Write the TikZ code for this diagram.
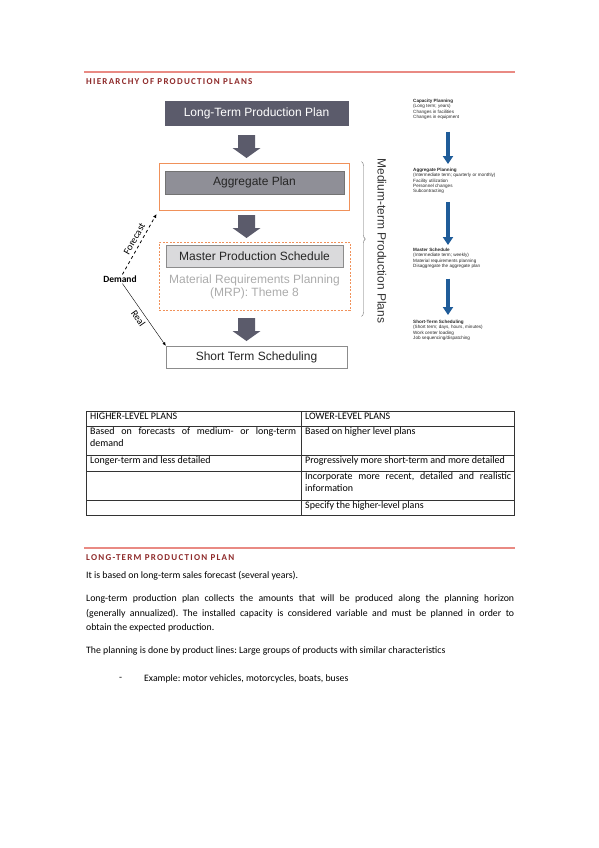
\documentclass[tikz,border=0pt]{standalone}
\usepackage{fontspec}
\setmainfont{Carlito}
\newfontfamily\arialfont{Liberation Sans}
\usetikzlibrary{arrows.meta,decorations.pathreplacing,calc}

\definecolor{headred}{HTML}{8E2A2A}
\definecolor{rulered}{HTML}{E98A83}
\definecolor{slate}{HTML}{5B5B6B}
\definecolor{midgray}{HTML}{8F8F97}
\definecolor{paleblock}{HTML}{DADADC}
\definecolor{planorange}{HTML}{F0915A}
\definecolor{mrpgray}{HTML}{ABABAB}
\definecolor{capblue}{HTML}{1F5C99}

\frenchspacing
\hyphenpenalty=10000
\exhyphenpenalty=10000

\begin{document}
\begin{tikzpicture}[x=1pt,y=-1pt,
    heading/.style={anchor=west, inner sep=0, text=headred,
      font=\bfseries\fontsize{9}{10}\selectfont\addfontfeature{LetterSpace=14}},
    planbox/.style={draw=#1, minimum height=23pt, inner sep=0,
      font=\arialfont\fontsize{12}{14}\selectfont},
    frame/.style={draw=planorange, line width=0.9pt, minimum width=190pt, inner sep=0},
    blockarrow/.style={fill=slate},
    captext/.style={anchor=north west, align=left, inner sep=0, text=black!85,
      font=\arialfont\fontsize{4.6}{5.3}\selectfont},
    bluearrow/.style={draw=capblue, line width=4pt, -{Triangle[width=10pt,length=8pt]}},
    cell/.style={anchor=north west, inner sep=0, text width=206pt, align=justify,
      font=\fontsize{10}{12}\selectfont},
    body/.style={anchor=north west, inner sep=0, text width=428pt, align=justify,
      font=\fontsize{9.8}{14.5}\selectfont}
]
\useasboundingbox (0,0) rectangle (599,848);

% section heading
\draw[rulered, line width=1.2pt] (84,72) -- (515,72);
\node[heading] (head1) at (86,81.5) {HIERARCHY OF PRODUCTION PLANS};

% hierarchy of plans
\node[planbox=slate, fill=slate, text=white, minimum width=183pt, minimum height=24pt] (ltp) at (256.5,113) {Long-Term Production Plan};
\node[frame, minimum height=47pt] (aggframe) at (254,186.5) {};
\node[planbox=black!55, fill=midgray, text=black!85, minimum width=179pt] (agg) at (254.5,182.5) {Aggregate Plan};
\node[frame, dashed, dash pattern=on 2pt off 1.5pt, minimum width=191pt, minimum height=68pt] (mrpframe) at (254.5,276) {};
\node[planbox=black!45, fill=paleblock, text=black!85, minimum width=177pt, minimum height=22pt] (mps) at (254.5,256) {Master Production Schedule};
\node[align=center, text=mrpgray, inner sep=0, font=\arialfont\fontsize{12}{13.5}\selectfont] (mrp) at (254.5,287) {Material Requirements Planning\\(MRP): Theme 8};
\node[planbox=black!45, fill=white, text=black!85, minimum width=181pt, minimum height=22pt] (sts) at (256.5,357) {Short Term Scheduling};

\foreach \ya in {135,215,318}
  \fill[blockarrow] (246.5,\ya) ++(-8.5,0) -- ++(17,0) -- ++(0,13) -- ++(5.5,0) -- ++(-14,10) -- ++(-14,-10) -- ++(5.5,0) -- cycle;

% demand side
\node[inner sep=1pt, font=\bfseries\fontsize{9.5}{11}\selectfont] (demand) at (120,279) {Demand};
\draw[dashed, thick, shorten >=4pt, -{Latex[length=4pt,width=3.5pt]}] (demand.62) -- node[midway, sloped, above, font=\fontsize{10}{11}\selectfont] {Forecast} (aggframe.south west);
\draw[thin, -{Latex[length=3.5pt,width=3pt]}] (demand.-62) -- node[midway, sloped, below, font=\fontsize{10}{11}\selectfont] {Real} (sts.north west);

% medium-term brace
\draw[black!60, decorate, decoration={brace, amplitude=4pt}] ([xshift=12pt, yshift=1pt]aggframe.north east) -- ([xshift=11pt, yshift=-6pt]mrpframe.south east);
\node[rotate=-90, inner sep=0, text=black!80, font=\arialfont\fontsize{12}{14}\selectfont] (medium) at (382,241) {Medium-term Production Plans};

% capacity planning column
\node[captext] (capnote) at (413,99) {\textbf{Capacity Planning}\\(Long term; years)\\Changes in facilities\\Changes in equipment};
\node[captext] (aggnote) at (413,168) {\textbf{Aggregate Planning}\\(Intermediate term; quarterly or monthly)\\Facility utilization\\Personnel changes\\Subcontracting};
\node[captext] (msnote) at (413,248) {\textbf{Master Schedule}\\(Intermediate term; weekly)\\Material requirements planning\\Disaggregate the aggregate plan};
\node[captext] (stsnote) at (413,320) {\textbf{Short-Term Scheduling}\\(Short term; days, hours, minutes)\\Work center loading\\Job sequencing/dispatching};
\coordinate (ax) at (448,0);
\draw[bluearrow, shorten <=12pt, shorten >=4pt] (ax |- capnote.south) -- (ax |- aggnote.north);
\draw[bluearrow, shorten <=8pt, shorten >=3pt] (ax |- aggnote.south) -- (ax |- msnote.north);
\draw[bluearrow, shorten <=10pt, shorten >=5pt] (ax |- msnote.south) -- (ax |- stsnote.north);

% table
\draw[black!80, line width=0.5pt] (86,411) rectangle (514,515);
\foreach \yr in {426,455,471,500}
  \draw[black!80, line width=0.5pt] (86,\yr) -- (514,\yr);
\draw[black!80, line width=0.5pt] (301,411) -- (301,515);
\node[cell] (h1) at (90,413) {HIGHER-LEVEL PLANS};
\node[cell] (h2) at (305,413) {LOWER-LEVEL PLANS};
\node[cell] (r1l) at (90,427) {Based on forecasts of medium- or long-term demand};
\node[cell] (r1r) at (305,427) {Based on higher level plans};
\node[cell] (r2l) at (90,456.5) {Longer-term and less detailed};
\node[cell] (r2r) at (305,456.5) {Progressively more short-term and more detailed};
\node[cell] (r3r) at (305,472.5) {Incorporate more recent, detailed and realistic information};
\node[cell] (r4r) at (305,501.5) {Specify the higher-level plans};

% second section
\draw[rulered, line width=1.2pt] (84,548) -- (515,548);
\node[heading] (head2) at (86,557.5) {LONG-TERM PRODUCTION PLAN};
\node[body] (p1) at (86,571.5) {It is based on long-term sales forecast (several years).};
\node[body] (p2) at (86,594.5) {Long-term production plan collects the amounts that will be produced along the planning horizon\linebreak (generally annualized). The installed capacity is considered variable and must be planned in order to\linebreak obtain the expected production.};
\node[body] (p3) at (86,646.5) {The planning is done by product lines: Large groups of products with similar characteristics};
\node[anchor=west, inner sep=0, text=black, font=\fontsize{9.8}{11}\selectfont] (bullet) at (119,679) {-};
\node[anchor=west, inner sep=0, font=\fontsize{9.8}{11}\selectfont] (example) at (144,679) {Example: motor vehicles, motorcycles, boats, buses};
\end{tikzpicture}
\end{document}
